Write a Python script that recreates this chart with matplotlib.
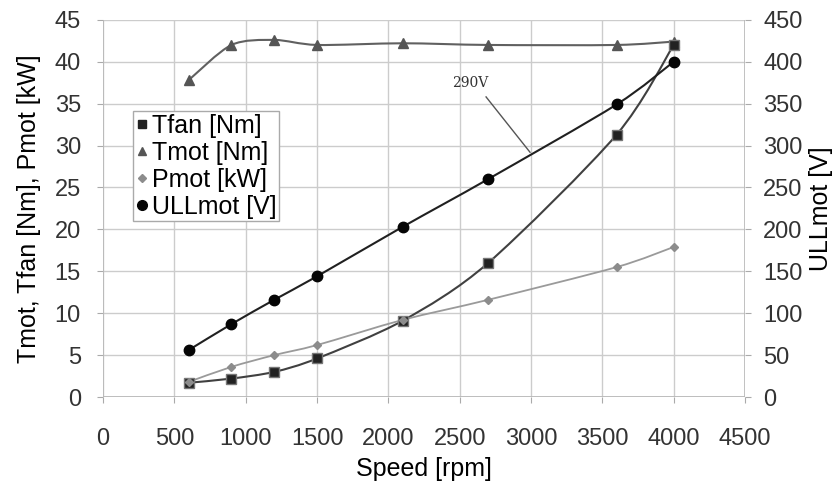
import matplotlib
matplotlib.use("Agg")
import matplotlib.pyplot as plt
from matplotlib.path import Path
from matplotlib.patches import PathPatch
from matplotlib.lines import Line2D
import numpy as np

plt.rcParams['font.family'] = ['Liberation Sans', 'DejaVu Sans']

# data
speed = [600, 900, 1200, 1500, 2100, 2700, 3600, 4000]
tfan = [1.7, 2.2, 3.0, 4.6, 9.1, 16.0, 31.3, 42.0]
tmot = [37.8, 42.0, 42.6, 42.0, 42.2, 42.0, 42.0, 42.4]
pmot = [1.8, 3.6, 5.0, 6.2, 9.2, 11.6, 15.5, 17.9]
ullmot = [56, 87, 116, 144, 203, 260, 349, 400]


def smooth_path(ax, xs, ys, color, lw, k=7.0):
    # excel-like smoothed line through the points (cubic bezier segments)
    x = np.asarray(xs, float)
    y = np.asarray(ys, float)
    n = len(x)
    verts = [(x[0], y[0])]
    codes = [Path.MOVETO]
    for i in range(n - 1):
        i0 = max(i - 1, 0)
        i3 = min(i + 2, n - 1)
        c1 = (x[i] + (x[i + 1] - x[i0]) / k, y[i] + (y[i + 1] - y[i0]) / k)
        c2 = (x[i + 1] - (x[i3] - x[i]) / k, y[i + 1] - (y[i3] - y[i]) / k)
        verts += [c1, c2, (x[i + 1], y[i + 1])]
        codes += [Path.CURVE4] * 3
    patch = PathPatch(Path(verts, codes), facecolor="none", edgecolor=color,
                      lw=lw, zorder=3)
    ax.add_patch(patch)


fig = plt.figure(figsize=(8.38, 4.83), dpi=100)
ax = fig.add_axes([0.123, 0.178, 0.766, 0.781])
ax2 = ax.twinx()

ax.set_xlim(0, 4500)
ax.set_ylim(0, 45)
ax2.set_ylim(0, 450)
ax.set_xticks(range(0, 4501, 500))
ax.set_yticks(range(0, 46, 5))
ax2.set_yticks(range(0, 451, 50))

ax.grid(True, color="#cccccc", lw=1.0)
ax.set_axisbelow(True)
for a in (ax, ax2):
    for s in a.spines.values():
        s.set_visible(False)
ax.axhline(0, color="#b8b8b8", lw=2, zorder=1)
ax.axvline(0, color="#b8b8b8", lw=1.2, zorder=1)
ax.axvline(4500, color="#b8b8b8", lw=1.2, zorder=1)
ax.tick_params(axis="x", length=4, color="#aaaaaa", labelsize=17, pad=18,
               labelcolor="#333333")
ax.tick_params(axis="y", length=4, color="#aaaaaa", labelsize=17, pad=12,
               labelcolor="#333333")
ax2.tick_params(axis="y", length=4, color="#aaaaaa", labelsize=17, pad=9,
                labelcolor="#333333")

smooth_path(ax, speed, tmot, "#606060", 1.5)
smooth_path(ax, speed, tfan, "#404040", 1.5)
smooth_path(ax, speed, pmot, "#9a9a9a", 1.3)
smooth_path(ax2, speed, ullmot, "#202020", 1.5)

ax.plot(speed, tmot, ls="none", marker="^", ms=7, color="#555555", zorder=4)
ax.plot(speed, tfan, ls="none", marker="s", ms=7, color="#222222",
        mec="#777777", zorder=4)
ax.plot(speed, pmot, ls="none", marker="D", ms=4, color="#8c8c8c", zorder=4)
ax2.plot(speed, ullmot, ls="none", marker="o", ms=7.5, color="#050505", zorder=4)

# 290V annotation
ax.text(2573, 37.5, "290V", family="DejaVu Serif", fontsize=10, color="#333333",
        ha="center", va="center")
ax.plot([2685, 2993], [35.8, 29.2], color="#555555", lw=1, zorder=3)

ax.set_xlabel("Speed [rpm]", fontsize=18, labelpad=5)
ax.set_ylabel("Tmot, Tfan [Nm], Pmot [kW]", fontsize=18, labelpad=10)
ax2.set_ylabel("ULLmot [V]", fontsize=18, labelpad=5)

handles = [
    Line2D([], [], ls="none", marker="s", ms=6, color="#222222"),
    Line2D([], [], ls="none", marker="^", ms=6, color="#555555"),
    Line2D([], [], ls="none", marker="D", ms=4, color="#8c8c8c"),
    Line2D([], [], ls="none", marker="o", ms=7, color="#050505"),
]
labels = ["Tfan [Nm]", "Tmot [Nm]", "Pmot [kW]", "ULLmot [V]"]
leg = ax2.legend(handles, labels, loc="upper left", bbox_to_anchor=(0.047, 0.757),
                 fontsize=18, frameon=True, fancybox=False, edgecolor="#aaaaaa",
                 framealpha=1, handlelength=0.5, handletextpad=0.15,
                 labelspacing=0.12, borderpad=0.1, borderaxespad=0)
leg.set_zorder(10)

fig.savefig("out.png", dpi=100)
